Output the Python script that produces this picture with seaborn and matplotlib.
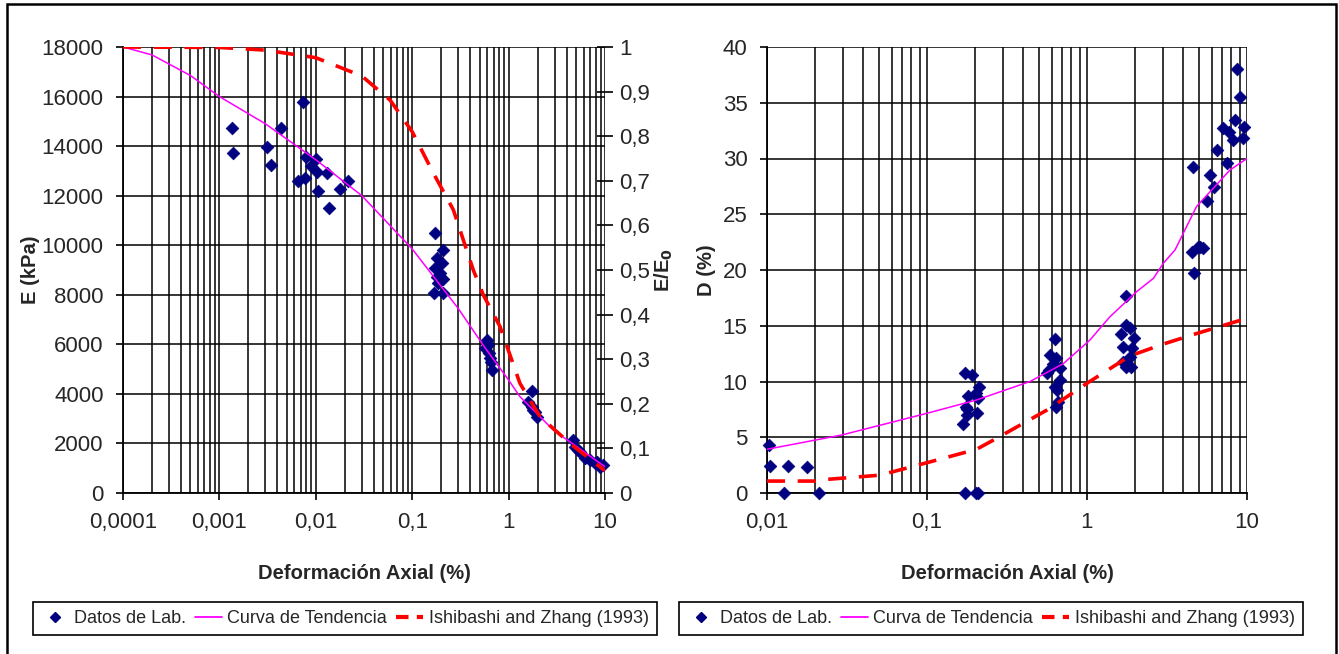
import numpy as np
import pandas as pd
import matplotlib
matplotlib.use('Agg')
import matplotlib.pyplot as plt
from matplotlib.ticker import LogLocator, FixedLocator, FuncFormatter, NullFormatter
from matplotlib.patches import Rectangle
from matplotlib.lines import Line2D
import seaborn as sns

# ---- left chart: modulo E vs deformacion axial ----
lab_strain_E = [0.00134, 0.00137, 0.0031, 0.0034, 0.0044, 0.0074, 0.0079, 0.0100, 0.0089,
                0.0104, 0.013, 0.0066, 0.0077, 0.0106, 0.0138, 0.0178, 0.0214,
                0.174, 0.207, 0.180, 0.202, 0.173, 0.194, 0.210, 0.180, 0.170, 0.207, 0.187,
                0.593, 0.616, 0.569, 0.631, 0.641, 0.668, 0.60, 0.65,
                1.75, 1.60, 1.73, 1.88, 1.95, 1.80,
                4.62, 4.89, 5.51, 6.21, 7.0, 7.88, 8.88, 9.6, 5.2, 8.2]
lab_E = [14718, 13710, 13975, 13237, 14718, 15767, 13572, 13466, 13196,
         12966, 12902, 12591, 12724, 12187, 11513, 12256, 12603,
         10480, 9806, 9471, 9270, 9068, 8866, 8624, 8729, 8059, 8059, 8462,
         6174, 5973, 5840, 5638, 5436, 4964, 6050, 5300,
         4116, 3685, 3483, 3281, 3079, 3350,
         2139, 1869, 1667, 1400, 1332, 1198, 1063, 1130, 1750, 1250]

trend_strain_E = [0.0001, 0.0002, 0.0005, 0.001, 0.003, 0.01, 0.03, 0.1, 0.3, 0.56, 1.0, 1.31, 2.91, 10.0]
trend_E = [18000, 17680, 16850, 16000, 14900, 13450, 12000, 9850, 7450, 5900, 4560, 3890, 2540, 1060]

ishi_strain_E = [0.0001, 0.001, 0.003, 0.01, 0.03, 0.059, 0.1, 0.166, 0.267, 0.43, 0.547, 0.815, 1.31, 2.12, 4.34, 10.0]
ishi_ratio = [1.0, 0.999, 0.993, 0.976, 0.935, 0.881, 0.81, 0.717, 0.635, 0.5, 0.444, 0.373, 0.246, 0.171, 0.111, 0.05]

# ---- right chart: amortiguamiento D vs deformacion axial ----
lab_strain_D = [0.0103, 0.0104, 0.0136, 0.0179, 0.0127, 0.0211,
                0.173, 0.19, 0.21, 0.18, 0.202, 0.207, 0.176, 0.178, 0.205, 0.169, 0.178, 0.173, 0.202, 0.207,
                0.63, 0.587, 0.64, 0.61, 0.68, 0.575, 0.565, 0.68, 0.63, 0.65, 0.66, 0.64,
                1.75, 1.75, 1.85, 1.63, 1.97, 1.68, 1.90, 1.87, 1.68, 1.75, 1.89,
                8.7, 9.0, 8.45, 9.6, 7.1, 7.7, 8.2, 9.5, 6.5, 7.5, 4.57, 5.9, 6.2, 5.65,
                4.5, 4.96, 5.33, 4.68, 5.1]
lab_D = [4.3, 2.42, 2.42, 2.3, 0.0, 0.0,
         10.8, 10.6, 9.5, 8.7, 8.94, 8.5, 7.74, 7.0, 7.15, 6.16, 7.5, 0.0, 0.0, 0.0,
         13.8, 12.4, 12.1, 11.6, 11.2, 11.0, 10.8, 10.1, 9.5, 9.24, 8.2, 7.74,
         17.67, 15.07, 14.77, 14.26, 13.87, 13.1, 13.0, 12.2, 11.78, 11.27, 11.27,
         38.0, 35.5, 33.45, 32.85, 32.7, 32.4, 31.66, 31.8, 30.76, 29.57, 29.2, 28.55, 27.4, 26.2,
         21.64, 22.1, 21.95, 19.7, 22.1]

trend_strain_D = [0.01, 0.0293, 0.1, 0.204, 0.44, 0.711, 1.04, 1.39, 2.04, 2.6, 3.0, 3.55, 4.84, 7.83, 10.0]
trend_D = [3.92, 5.2, 7.15, 8.34, 10.0, 11.6, 13.7, 15.8, 18.05, 19.25, 20.6, 21.8, 25.7, 28.97, 30.0]

ishi_strain_D = [0.01, 0.02, 0.0214, 0.0508, 0.105, 0.204, 0.272, 0.562, 1.04, 1.86, 3.0, 4.84, 10.0]
ishi_D = [1.07, 1.07, 1.17, 1.6, 2.8, 3.92, 4.9, 7.44, 10.0, 12.3, 13.36, 14.3, 15.67]

sns.set_theme(style='white')
plt.rcParams['font.family'] = ['Liberation Sans', 'DejaVu Sans']

W, H = 1339, 654
fig = plt.figure(figsize=(W / 100, H / 100), dpi=100)

def fx(px):
    return px / W

def fy(py):
    return 1 - py / H

ax1 = fig.add_axes([fx(123), fy(493), fx(605) - fx(123), fy(47) - fy(493)])
ax2 = fig.add_axes([fx(767), fy(493), fx(1247) - fx(767), fy(47) - fy(493)])

navy = '#000080'
pink = '#FF00FF'
red = '#FF0000'
dash = (0, (5, 3.5))
lab_font = dict(fontsize=14.5, fontweight='bold')


def comma(v, pos=None):
    return '{:g}'.format(v).replace('.', ',')


def style_axes(ax):
    ax.set_xscale('log')
    ax.xaxis.set_major_locator(LogLocator(base=10))
    ax.xaxis.set_minor_locator(LogLocator(base=10, subs=np.arange(2, 10)))
    ax.xaxis.set_minor_formatter(NullFormatter())
    ax.xaxis.set_major_formatter(FuncFormatter(comma))
    ax.yaxis.set_major_formatter(FuncFormatter(comma))
    ax.grid(True, which='major', axis='both', color='black', lw=1.1)
    ax.grid(True, which='minor', axis='x', color='black', lw=1.1)
    ax.set_axisbelow(True)
    for s in ['top', 'right']:
        ax.spines[s].set_visible(False)
    for s in ['left', 'bottom']:
        ax.spines[s].set_color('black')
        ax.spines[s].set_linewidth(1.3)
    ax.tick_params(which='major', direction='out', length=5, width=1.2, color='black',
                   labelsize=16, pad=9, left=True, bottom=True)
    ax.tick_params(which='minor', length=0)
    ax.set_facecolor('white')


# left chart
sns.scatterplot(x=lab_strain_E, y=lab_E, ax=ax1, marker='D', s=42, color=navy,
                edgecolor=navy, linewidth=0.5, zorder=3, clip_on=False)
sns.lineplot(x=trend_strain_E, y=trend_E, ax=ax1, color=pink, lw=1.1, sort=False,
             estimator=None, zorder=4)
style_axes(ax1)
ax1.set_xlim(0.0001, 10)
ax1.set_ylim(0, 18000)
ax1.yaxis.set_major_locator(FixedLocator(np.arange(0, 18001, 2000)))
ax1.set_xlabel('Deformación Axial (%)', labelpad=22, **lab_font)
ax1.set_ylabel('E (kPa)', **lab_font)
ax1.yaxis.set_label_coords(-0.172, 0.5)

ax1b = ax1.twinx()
sns.lineplot(x=ishi_strain_E, y=ishi_ratio, ax=ax1b, color=red, lw=2.6, sort=False,
             estimator=None, zorder=5)
ax1b.lines[-1].set_linestyle(dash)
ax1b.set_ylim(0, 1)
ax1b.yaxis.set_major_locator(FixedLocator(np.round(np.arange(0, 1.01, 0.1), 1)))
ax1b.yaxis.set_major_formatter(FuncFormatter(comma))
ax1b.tick_params(axis='y', direction='inout', length=11, width=1.2, color='black',
                 labelsize=16, pad=5, right=True)
for s in ['top', 'left', 'bottom', 'right']:
    ax1b.spines[s].set_visible(False)
ax1b.grid(False)
ax1b.set_ylabel('E/E$_\\mathbf{0}$', **lab_font)
ax1b.yaxis.set_label_coords(1.099, 0.5)

# right chart
sns.scatterplot(x=lab_strain_D, y=lab_D, ax=ax2, marker='D', s=42, color=navy,
                edgecolor=navy, linewidth=0.5, zorder=3, clip_on=False)
sns.lineplot(x=trend_strain_D, y=trend_D, ax=ax2, color=pink, lw=1.1, sort=False,
             estimator=None, zorder=4)
sns.lineplot(x=ishi_strain_D, y=ishi_D, ax=ax2, color=red, lw=2.6, sort=False,
             estimator=None, zorder=5)
ax2.lines[-1].set_linestyle(dash)
style_axes(ax2)
ax2.set_xlim(0.01, 10)
ax2.set_ylim(0, 40)
ax2.yaxis.set_major_locator(FixedLocator(np.arange(0, 41, 5)))
ax2.set_xlabel('Deformación Axial (%)', labelpad=22, **lab_font)
ax2.set_ylabel('D (%)', **lab_font)
ax2.yaxis.set_label_coords(-0.106, 0.5)

# legends
handles = [Line2D([], [], marker='D', ls='none', color=navy, markersize=5),
           Line2D([], [], color=pink, lw=1.3),
           Line2D([], [], color=red, lw=3, ls=(0, (3, 2)))]
labels = ['Datos de Lab.', 'Curva de Tendencia', 'Ishibashi and Zhang (1993)']
for x0, x1 in [(27, 663), (672, 1310)]:
    leg = fig.legend(handles, labels, loc='center',
                     bbox_to_anchor=((fx(x0) + fx(x1)) / 2, fy(618.5)),
                     bbox_transform=fig.transFigure, ncol=3, fontsize=13, frameon=True,
                     fancybox=False, edgecolor='black', framealpha=1, handlelength=1.5,
                     handletextpad=0.3, columnspacing=0.5, borderpad=0.45)
    leg.get_frame().set_linewidth(1.2)

# outer border
fig.patches.append(Rectangle((fx(7), fy(662)), fx(1336) - fx(7), fy(4) - fy(662),
                             transform=fig.transFigure, fill=False, edgecolor='black',
                             lw=1.8))

fig.savefig('out.png', dpi=100, facecolor='white')
